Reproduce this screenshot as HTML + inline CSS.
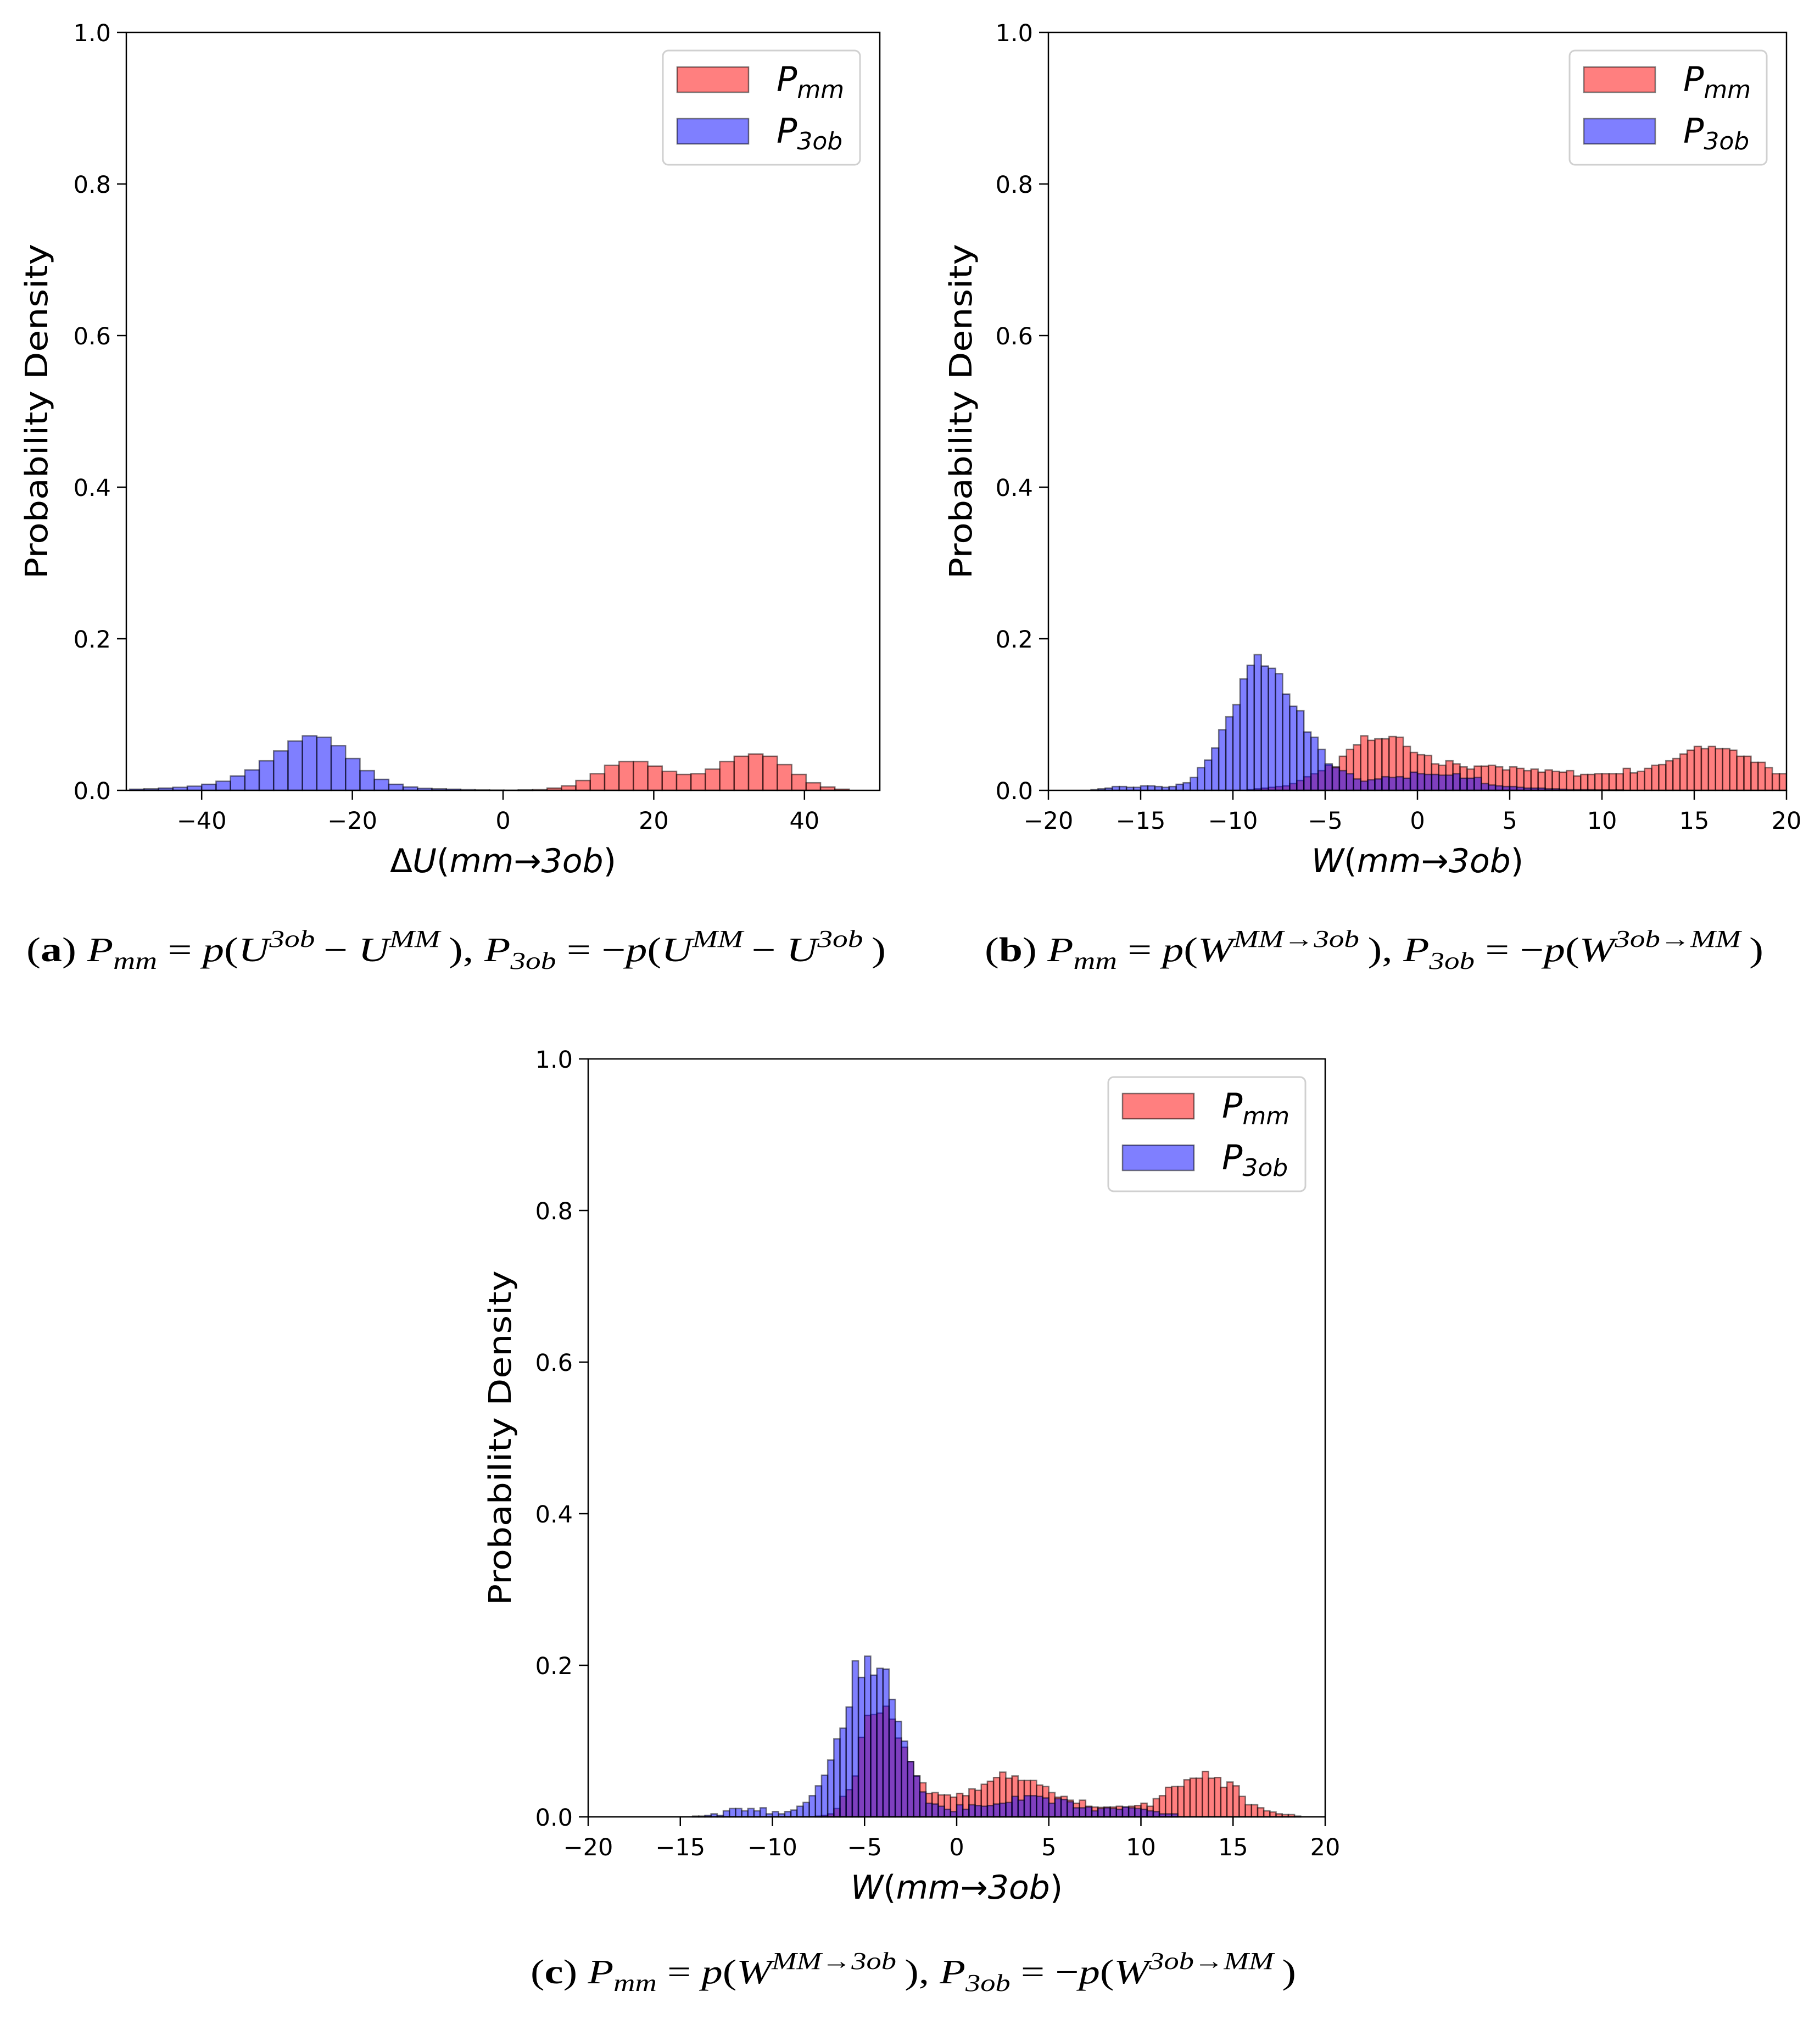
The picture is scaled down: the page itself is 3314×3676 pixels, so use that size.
<!DOCTYPE html>
<html><head><meta charset="utf-8"><style>
html,body{margin:0;padding:0;background:#fff;}
svg{display:block;}
</style></head><body>
<svg id="fig" xmlns="http://www.w3.org/2000/svg" width="3314" height="3676" viewBox="0 0 3314 3676"></svg>
<script>
// ---------- data ----------
const aStart = -49.55, aWidth = 1.91;
const aRed = [0,0,0,0,0,0,0,0,0,0,0,0,0,0,0,0,0,0,0,0,0,0,0,0,0,0,0,0.0005,0.001,0.003,0.006,0.013,0.022,0.033,0.038,0.038,0.032,0.025,0.021,0.022,0.028,0.038,0.045,0.048,0.045,0.034,0.021,0.010,0.0045,0.0015];
const aBlue = [0.0015,0.002,0.003,0.004,0.0055,0.008,0.012,0.019,0.027,0.039,0.052,0.065,0.072,0.070,0.059,0.042,0.026,0.0145,0.008,0.0045,0.0027,0.002,0.0015,0.001,0.0005,0.0003,0.0002,0.0001,0,0,0,0,0,0,0,0,0,0,0,0,0,0,0,0,0,0,0,0,0,0];
const bStart = -20, bWidth = 40/104;
const bRed = [0,0,0,0,0,0,0,0,0,0,0,0,0,0,0,0,0,0,0,0,0,0,0,0,0,0,0,0,0.001,0.002,0.003,0.004,0.005,0.006,0.009,0.013,0.018,0.022,0.026,0.033,0.031,0.045,0.054,0.060,0.072,0.066,0.068,0.068,0.071,0.070,0.058,0.050,0.047,0.046,0.035,0.033,0.039,0.035,0.031,0.028,0.032,0.032,0.033,0.031,0.027,0.031,0.029,0.026,0.028,0.024,0.027,0.025,0.024,0.026,0.019,0.021,0.021,0.022,0.022,0.022,0.022,0.029,0.023,0.025,0.029,0.033,0.034,0.039,0.042,0.048,0.053,0.058,0.055,0.058,0.055,0.055,0.053,0.045,0.045,0.037,0.037,0.030,0.022,0.022];
const bBlue = [0,0,0,0,0,0,0.001,0.002,0.003,0.005,0.005,0.004,0.004,0.006,0.006,0.005,0.004,0.005,0.008,0.010,0.017,0.030,0.040,0.056,0.080,0.097,0.113,0.147,0.165,0.179,0.164,0.161,0.154,0.127,0.111,0.105,0.077,0.070,0.054,0.035,0.030,0.026,0.022,0.015,0.012,0.014,0.015,0.018,0.017,0.018,0.016,0.024,0.022,0.021,0.021,0.020,0.020,0.022,0.016,0.016,0.017,0.009,0.007,0.006,0.005,0.005,0.004,0.003,0.003,0.003,0.002,0.002,0.0015,0.001,0.001,0.001,0.001,0.0005,0.0005,0.0005,0.0005,0,0,0,0,0,0,0,0,0,0,0,0,0,0,0,0,0,0,0,0,0,0,0];
const cStart = -20, cWidth = 1/3;
const cRed = [0,0,0,0,0,0,0,0,0,0,0,0,0,0,0,0,0,0,0,0,0,0,0,0,0,0,0,0,0,0,0,0,0,0,0,0,0,0.001,0.002,0.004,0.011,0.027,0.036,0.054,0.105,0.134,0.135,0.137,0.146,0.129,0.104,0.092,0.073,0.054,0.045,0.031,0.032,0.029,0.029,0.026,0.031,0.028,0.037,0.035,0.043,0.047,0.052,0.059,0.051,0.054,0.048,0.048,0.048,0.042,0.040,0.032,0.026,0.027,0.022,0.018,0.022,0.014,0.013,0.0125,0.013,0.013,0.014,0.013,0.014,0.015,0.018,0.014,0.024,0.028,0.039,0.040,0.040,0.049,0.051,0.051,0.060,0.051,0.052,0.039,0.046,0.041,0.027,0.016,0.016,0.012,0.008,0.0065,0.004,0.003,0.003,0.001,0,0,0,0];
const cBlue = [0,0,0,0,0,0,0,0,0,0,0,0,0,0,0,0,0,0.001,0.001,0.002,0.004,0.002,0.008,0.011,0.011,0.008,0.011,0.008,0.012,0.004,0.007,0.004,0.007,0.009,0.014,0.019,0.028,0.041,0.055,0.075,0.103,0.117,0.145,0.206,0.184,0.212,0.187,0.196,0.195,0.155,0.126,0.100,0.073,0.054,0.033,0.018,0.017,0.014,0.010,0.007,0.016,0.010,0.016,0.015,0.014,0.015,0.017,0.018,0.019,0.027,0.022,0.028,0.028,0.027,0.025,0.018,0.024,0.023,0.020,0.012,0.012,0.013,0.008,0.011,0.012,0.011,0.010,0.013,0.012,0.011,0.010,0.008,0.007,0.004,0.004,0.004,0,0,0,0,0,0,0,0,0,0,0,0,0,0,0,0,0,0,0,0,0,0,0,0];
const yTicks = [0,0.2,0.4,0.6,0.8,1.0];
const yTickLabels = ["0.0","0.2","0.4","0.6","0.8","1.0"];
const aXTicks = [-40,-20,0,20,40];
const bcXTicks = [-20,-15,-10,-5,0,5,10,15,20];

// ---------- drawing ----------
const NS = "http://www.w3.org/2000/svg";
const svg = document.getElementById('fig');
function mk(tag, attrs, parent){
  const e = document.createElementNS(NS, tag);
  for (const k in attrs) e.setAttribute(k, attrs[k]);
  (parent||svg).appendChild(e);
  return e;
}
const TF = '"DejaVu Sans","Liberation Sans",sans-serif';

function panel(id, box, xmin, xmax, xticks, start, width, red, blue, xlabel, ylabelX){
  const g = mk('g', {});
  
  
  const X = v => box.l + (v - xmin) / (xmax - xmin) * (box.r - box.l);
  const Y = v => box.b - v * (box.b - box.t);
  const clip = mk('clipPath', {id: 'clip-' + id}, g);
  mk('rect', {x: box.l, y: box.t - 5, width: box.r - box.l, height: box.b - box.t + 10}, clip);
  const bars = mk('g', {'clip-path': 'url(#clip-' + id + ')'}, g);
  function series(vals, fill, name){
    const sg = mk('g', {}, bars);
    
    
    vals.forEach((v, i) => {
      const x0 = X(start + i * width), x1 = X(start + (i + 1) * width);
      const r = mk('rect', {x: x0, y: Y(v), width: x1 - x0, height: box.b - Y(v),
        fill: fill, 'fill-opacity': 0.5, stroke: '#000', 'stroke-opacity': 0.5, 'stroke-width': 2.5}, sg);
      
      
    });
  }
  series(red, '#ff0000', 'series-pmm');
  series(blue, '#0000ff', 'series-p3ob');
  const fr = mk('rect', {x: box.l, y: box.t, width: box.r - box.l, height: box.b - box.t, fill: 'none', stroke: '#000', 'stroke-width': 2.5}, g);
  
  
  yTicks.forEach((v, i) => {
    mk('line', {x1: box.l - 17, x2: box.l, y1: Y(v), y2: Y(v), stroke: '#000', 'stroke-width': 2.5}, g);
    const t = mk('text', {x: box.l - 28, y: Y(v) + 16, 'text-anchor': 'end', 'font-family': TF, 'font-size': 43, fill: '#000'}, g);
    t.textContent = yTickLabels[i];
    
    
  });
  xticks.forEach(v => {
    mk('line', {x1: X(v), x2: X(v), y1: box.b, y2: box.b + 17, stroke: '#000', 'stroke-width': 2.5}, g);
    const t = mk('text', {x: X(v), y: box.b + 70, 'text-anchor': 'middle', 'font-family': TF, 'font-size': 43, fill: '#000'}, g);
    t.textContent = v < 0 ? '\u2212' + Math.abs(v) : String(v);
    
    
  });
  const xl = mk('text', {x: (box.l + box.r) / 2, y: box.b + 149, 'text-anchor': 'middle', 'font-family': TF, 'font-size': 60, fill: '#000'}, g);
  xl.innerHTML = xlabel;
  
  
  const cy = (box.t + box.b) / 2;
  const yl = mk('text', {x: ylabelX, y: cy, 'text-anchor': 'middle', 'font-family': TF, 'font-size': 56, fill: '#000',
    transform: 'rotate(-90 ' + ylabelX + ' ' + cy + ')', textLength: 610, lengthAdjust: 'spacingAndGlyphs'}, g);
  yl.textContent = 'Probability Density';
  
  
  const lg = mk('g', {}, g);
  
  
  const lr = box.r - 36, lw = 359, lt = box.t + 33;
  mk('rect', {x: lr - lw, y: lt, width: lw, height: 208, rx: 10, fill: '#fff', 'fill-opacity': 0.8, stroke: '#d0d0d0', 'stroke-width': 3}, lg);
  const items = [['#ff0000', 'mm', 'legend-entry-pmm'], ['#0000ff', '3ob', 'legend-entry-p3ob']];
  items.forEach((it, i) => {
    const ig = mk('g', {}, lg);
    
    
    const py = lt + 30 + i * 94;
    mk('rect', {x: lr - lw + 26, y: py, width: 130, height: 46, fill: it[0], 'fill-opacity': 0.5, stroke: '#000', 'stroke-opacity': 0.5, 'stroke-width': 2.5}, ig);
    const t = mk('text', {x: lr - lw + 207, y: py + 44, 'font-family': TF, 'font-size': 62, 'font-style': 'italic', fill: '#000'}, ig);
    t.innerHTML = 'P<tspan font-size="44" dy="12">' + it[1] + '</tspan>';
  });
  return g;
}

panel('a', {l: 230, r: 1602, t: 59, b: 1439}, -50, 50, aXTicks, aStart, aWidth, aRed, aBlue,
  '\u0394<tspan font-style="italic">U</tspan>(<tspan font-style="italic">mm</tspan>\u2192<tspan font-style="italic">3ob</tspan>)', 86);
panel('b', {l: 1909, r: 3253, t: 59, b: 1439}, -20, 20, bcXTicks, bStart, bWidth, bRed, bBlue,
  '<tspan font-style="italic">W</tspan>(<tspan font-style="italic">mm</tspan>\u2192<tspan font-style="italic">3ob</tspan>)', 1769);
panel('c', {l: 1071, r: 2413, t: 1928, b: 3308}, -20, 20, bcXTicks, cStart, cWidth, cRed, cBlue,
  '<tspan font-style="italic">W</tspan>(<tspan font-style="italic">mm</tspan>\u2192<tspan font-style="italic">3ob</tspan>)', 930);

const SF = '"Liberation Serif","DejaVu Serif",serif';
function caption(id, x, y, len, letter, body){
  const t = mk('text', {x: x, y: y, 'font-family': SF, 'font-size': 62, fill: '#000', textLength: len, lengthAdjust: 'spacingAndGlyphs'});
  t.innerHTML = '(<tspan font-weight="bold">' + letter + '</tspan>) ' + body;
  
  
}
const sup = s => '<tspan font-size="44" dy="-26">' + s + '</tspan><tspan dy="26">\u2009</tspan>';
const sub = s => '<tspan font-size="44" dy="14">' + s + '</tspan><tspan dy="-14"> </tspan>';
const capA = '<tspan font-style="italic">P</tspan>' + sub('<tspan font-style="italic">mm</tspan>') + '= <tspan font-style="italic">p</tspan>(<tspan font-style="italic">U</tspan>' + sup('<tspan font-style="italic">3ob</tspan>') + '\u2212 <tspan font-style="italic">U</tspan>' + sup('<tspan font-style="italic">MM</tspan>') + '), <tspan font-style="italic">P</tspan>' + sub('<tspan font-style="italic">3ob</tspan>') + '= \u2212<tspan font-style="italic">p</tspan>(<tspan font-style="italic">U</tspan>' + sup('<tspan font-style="italic">MM</tspan>') + '\u2212 <tspan font-style="italic">U</tspan>' + sup('<tspan font-style="italic">3ob</tspan>') + ')';
const capW = '<tspan font-style="italic">P</tspan>' + sub('<tspan font-style="italic">mm</tspan>') + '= <tspan font-style="italic">p</tspan>(<tspan font-style="italic">W</tspan>' + sup('<tspan font-style="italic">MM\u21923ob</tspan>') + '), <tspan font-style="italic">P</tspan>' + sub('<tspan font-style="italic">3ob</tspan>') + '= \u2212<tspan font-style="italic">p</tspan>(<tspan font-style="italic">W</tspan>' + sup('<tspan font-style="italic">3ob\u2192MM</tspan>') + ')';
caption('a', 48, 1750, 1565, 'a', capA);
caption('b', 1793, 1750, 1418, 'b', capW);
caption('c', 966, 3611, 1394, 'c', capW);
</script>
</body></html>
